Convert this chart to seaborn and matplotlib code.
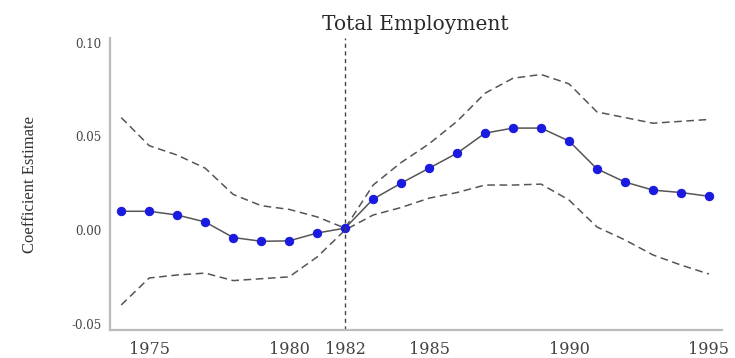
import matplotlib
matplotlib.use("Agg")
import matplotlib.pyplot as plt
import numpy as np
import pandas as pd
import seaborn as sns

# Event-study coefficients for total employment, with confidence bounds
years = list(range(1974, 1996))
coef = [0.010, 0.010, 0.008, 0.0043, -0.0040, -0.0060, -0.0058, -0.0016, 0.001,
        0.0165, 0.025, 0.033, 0.041, 0.0517, 0.0544, 0.0544, 0.0475, 0.0326,
        0.0256, 0.0213, 0.020, 0.018]
upper = [0.060, 0.045, 0.040, 0.033, 0.019, 0.013, 0.011, 0.007, 0.001,
         0.024, 0.036, 0.046, 0.058, 0.073, 0.081, 0.083, 0.078, 0.063,
         0.060, 0.057, 0.058, 0.059]
lower = [-0.040, -0.0256, -0.024, -0.023, -0.027, -0.026, -0.025, -0.0144, 0.000,
         0.008, 0.012, 0.017, 0.020, 0.024, 0.024, 0.0245, 0.016, 0.0016,
         -0.0053, -0.0133, -0.0187, -0.0235]
event_year = 1982
xticks = [1975, 1980, 1982, 1985, 1990, 1995]
yticks = [-0.05, 0.00, 0.05, 0.10]
yticklabels = ["-0.05", "0.00", "0.05", "0.10"]

df = pd.DataFrame({"year": years, "coef": coef, "upper": upper, "lower": lower})

sns.set_style("white")
plt.rcParams["font.family"] = ["DejaVu Serif", "Liberation Serif"]

fig = plt.figure(figsize=(7.35, 3.58), dpi=100)
ax = fig.add_axes([0.1497, 0.078, 0.832, 0.816])

sns.lineplot(data=df, x="year", y="upper", ax=ax, color="#555555",
             linestyle=(0, (5, 3)), linewidth=1.1)
sns.lineplot(data=df, x="year", y="lower", ax=ax, color="#555555",
             linestyle=(0, (5, 3)), linewidth=1.1)
sns.lineplot(data=df, x="year", y="coef", ax=ax, color="#555555",
             linewidth=1.1, marker="o", markersize=6,
             markerfacecolor="#1a1ae0", markeredgecolor="#1a1ae0")

ax.axvline(event_year, color="#444444", linestyle=(0, (3, 2.5)), linewidth=1.0)

ax.set_xlim(1973.6, 1995.45)
ax.set_ylim(-0.0534, 0.1025)
ax.set_xticks(xticks)
ax.set_xticklabels([str(t) for t in xticks])
ax.set_yticks(yticks)
ax.set_yticklabels(yticklabels)

ax.set_title("Total Employment", fontsize=14.5, color="#2a2a2a", pad=6)
ax.set_xlabel("")
ax.set_ylabel("Coefficient Estimate", fontsize=12, color="#333333",
              labelpad=24, family="Liberation Serif")

ax.tick_params(axis="x", labelsize=11.5, colors="#555555", length=3, width=0.8,
               direction="out", labelcolor="#444444", pad=5)
ax.tick_params(axis="y", labelsize=8.5, colors="#555555", length=3, width=0.8,
               direction="out", labelcolor="#444444", pad=3)

for side in ["top", "right"]:
    ax.spines[side].set_visible(False)
for side in ["left", "bottom"]:
    ax.spines[side].set_color("#bbbbbb")
    ax.spines[side].set_linewidth(1.6)

fig.savefig("out.png", dpi=100)
